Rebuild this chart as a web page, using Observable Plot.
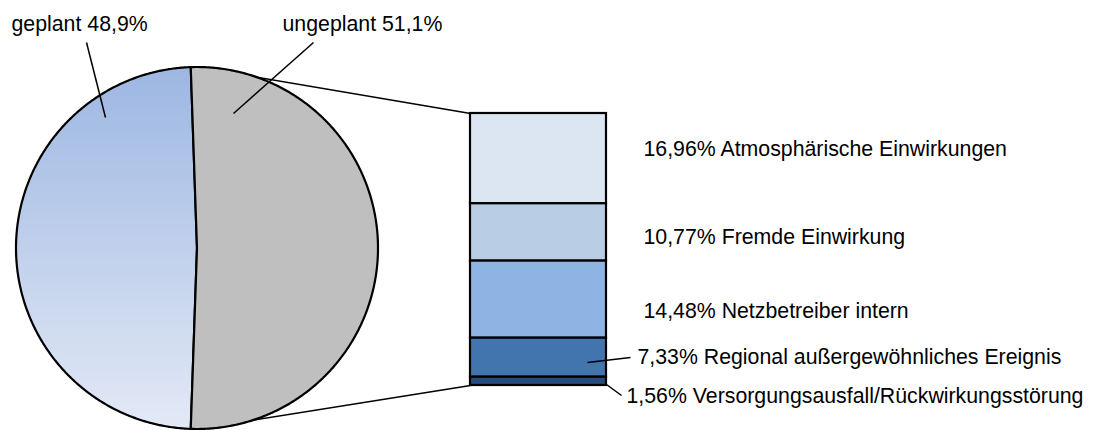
<!DOCTYPE html>
<html><head><meta charset="utf-8">
<script src="https://cdn.jsdelivr.net/npm/d3@7"></script>
<script src="https://cdn.jsdelivr.net/npm/@observablehq/plot@0.6"></script>
<style>html,body{margin:0;padding:0;background:#fff}svg{display:block}</style>
</head><body><div id="chart"></div>
<script>
// ---- data ----
const pieLabels = ["geplant", "ungeplant"];
const pieValues = [48.9, 51.1];
const pieValueText = ["48,9%", "51,1%"];
const barLabels = ["Atmosphärische Einwirkungen", "Fremde Einwirkung", "Netzbetreiber intern",
  "Regional außergewöhnliches Ereignis", "Versorgungsausfall/Rückwirkungsstörung"];
const barValues = [16.96, 10.77, 14.48, 7.33, 1.56];
const barValueText = ["16,96%", "10,77%", "14,48%", "7,33%", "1,56%"];

// ---- layout / styles ----
const W = 1093, H = 430;
const pieGeom = {cx: 196.5, cy: 247.5, r: 181};
const barGeom = {x0: 470, x1: 606, y0: 113, y1: 385};
const barColors = ["#DCE6F2", "#B9CDE5", "#8EB4E3", "#4274AE", "#254B7C"];
const greyFill = "#BFBFBF";
const pieLabelPos = [ {x: 11, y: 30, lx1: 86, ly1: 42, lx2: 105, ly2: 117},
                      {x: 282, y: 30, lx1: 313, ly1: 42, lx2: 233, ly2: 113} ];
const barLabelPos = [ {x: 643, y: 155}, {x: 643, y: 243}, {x: 643, y: 317},
                      {x: 637, y: 363, lx1: 587, ly1: 362, lx2: 630, ly2: 357},
                      {x: 626, y: 402, lx1: 606, ly1: 384, lx2: 621, ly2: 395} ];
const font = "'Liberation Sans', Arial, sans-serif";
const fontSize = 21.3;

// ---- pie geometry from values ----
const total = d3.sum(pieValues);
const angOf = v => v / total * 2 * Math.PI;
const start = Math.PI / 2 - angOf(pieValues[1]) / 2 - angOf(pieValues[0]);
const arcs = d3.pie().sort(null).startAngle(start).endAngle(start + 2 * Math.PI)(pieValues);
function slicePoly(a, name) {
  const pts = [{x: pieGeom.cx, y: pieGeom.cy, s: name}];
  const n = Math.max(2, Math.ceil((a.endAngle - a.startAngle) / (Math.PI / 360)));
  for (let i = 0; i <= n; i++) {
    const t = a.startAngle + (a.endAngle - a.startAngle) * i / n;
    pts.push({x: pieGeom.cx + pieGeom.r * Math.sin(t), y: pieGeom.cy - pieGeom.r * Math.cos(t), s: name});
  }
  return pts;
}
const geplantPoly = slicePoly(arcs[0], pieLabels[0]);
const ungeplantPoly = slicePoly(arcs[1], pieLabels[1]);

// ---- bar stacking from values ----
const barTotal = d3.sum(barValues);
const yBar = d3.scaleLinear().domain([0, barTotal]).range([barGeom.y0, barGeom.y1]);
let cum = 0;
const barRows = barValues.map((v, i) => {
  const r = {label: barLabels[i], v, c: barColors[i], y1: yBar(cum), y2: yBar(cum + v)};
  cum += v; return r;
});

const connectors = [
  {x1: pieGeom.cx, y1: pieGeom.cy - pieGeom.r, x2: barGeom.x0, y2: barGeom.y0},
  {x1: pieGeom.cx, y1: pieGeom.cy + pieGeom.r, x2: barGeom.x0, y2: barGeom.y1}
];
const pieTexts = pieLabels.map((l, i) => ({t: `${l} ${pieValueText[i]}`, ...pieLabelPos[i]}));
const barTexts = barLabels.map((l, i) => ({t: `${barValueText[i]} ${l}`, ...barLabelPos[i]}));
const leaders = [...pieTexts, ...barTexts].filter(d => d.lx1 !== undefined);

const chart = Plot.plot({
  width: W, height: H, margin: 0,
  x: {domain: [0, W], range: [0, W], axis: null},
  y: {domain: [0, H], range: [0, H], axis: null},
  style: {fontFamily: font, background: "#fff"},
  marks: [
    Plot.link(connectors, {x1: "x1", y1: "y1", x2: "x2", y2: "y2", stroke: "#000", strokeWidth: 1.5}),
    Plot.line(geplantPoly, {x: "x", y: "y", curve: "linear-closed", fill: "url(#gradGeplant)", stroke: "#000", strokeWidth: 2.2, strokeLinejoin: "round"}),
    Plot.line(ungeplantPoly, {x: "x", y: "y", curve: "linear-closed", fill: greyFill, stroke: "#000", strokeWidth: 2.2, strokeLinejoin: "round"}),
    Plot.rect(barRows, {x1: () => barGeom.x0, x2: () => barGeom.x1, y1: "y1", y2: "y2", fill: "c", stroke: "#000", strokeWidth: 2.2}),
    Plot.link(leaders, {x1: "lx1", y1: "ly1", x2: "lx2", y2: "ly2", stroke: "#000", strokeWidth: 1.5}),
    Plot.text([...pieTexts, ...barTexts], {x: "x", y: "y", text: "t", textAnchor: "start", lineAnchor: "bottom", fontSize, fontFamily: font, fill: "#000"})
  ]
});
// gradient definition for the "geplant" slice
const ns = "http://www.w3.org/2000/svg";
const defs = document.createElementNS(ns, "defs");
defs.innerHTML = `<linearGradient id="gradGeplant" x1="0" y1="0" x2="0" y2="1">
  <stop offset="0" stop-color="#9DB7E2"/><stop offset="1" stop-color="#E3E9F6"/></linearGradient>`;
chart.insertBefore(defs, chart.firstChild);
document.getElementById("chart").appendChild(chart);
</script>
</body></html>
